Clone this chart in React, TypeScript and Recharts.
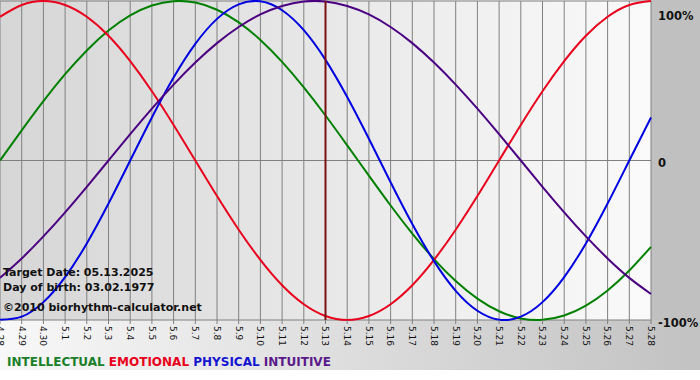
import React from 'react';
import { LineChart, Line, XAxis, YAxis, CartesianGrid, ReferenceLine } from 'recharts';

const days = [
  '4.28', '4.29', '4.30', '5.1', '5.2', '5.3', '5.4', '5.5', '5.6', '5.7', '5.8',
  '5.9', '5.10', '5.11', '5.12', '5.13', '5.14', '5.15', '5.16', '5.17', '5.18',
  '5.19', '5.20', '5.21', '5.22', '5.23', '5.24', '5.25', '5.26', '5.27', '5.28',
];

// percent values, one per day
const intellectual = [0, 18.9, 37.2, 54.1, 69.0, 81.5, 91.0, 97.2, 99.9, 99.0, 94.5, 86.6, 75.6, 61.8, 45.8, 28.2, 9.5, -9.5, -28.2, -45.8, -61.8, -75.6, -86.6, -94.5, -99.0, -99.9, -97.2, -91.0, -81.5, -69.0, -54.1];
const emotional = [90.1, 97.5, 100, 97.5, 90.1, 78.2, 62.3, 43.4, 22.3, 0, -22.3, -43.4, -62.3, -78.2, -90.1, -97.5, -100, -97.5, -90.1, -78.2, -62.3, -43.4, -22.3, 0, 22.3, 43.4, 62.3, 78.2, 90.1, 97.5, 100];
const physical = [-99.8, -97.9, -88.8, -73.1, -52.0, -27.0, 0, 27.0, 52.0, 73.1, 88.8, 97.9, 99.8, 94.2, 81.7, 63.1, 39.8, 13.6, -13.6, -39.8, -63.1, -81.7, -94.2, -99.8, -97.9, -88.8, -73.1, -52.0, -27.0, 0, 27.0];
const intuitive = [-73.6, -61.4, -47.6, -32.5, -16.5, 0, 16.5, 32.5, 47.6, 61.4, 73.6, 83.7, 91.6, 96.9, 99.7, 99.7, 96.9, 91.6, 83.7, 73.6, 61.4, 47.6, 32.5, 16.5, 0, -16.5, -32.5, -47.6, -61.4, -73.6, -83.7];

const targetDay = '5.13';
const infoLines = ['Target Date: 05.13.2025', 'Day of birth: 03.02.1977', '©2010 biorhythm-calculator.net'];

const series = [
  { key: 'intellectual', label: 'INTELLECTUAL', color: '#008000', text: '#1b7f2a' },
  { key: 'emotional', label: 'EMOTIONAL', color: '#e8001c', text: '#e8001c' },
  { key: 'physical', label: 'PHYSICAL', color: '#0000e0', text: '#1515d0' },
  { key: 'intuitive', label: 'INTUITIVE', color: '#4b0082', text: '#5a1a8a' },
];

const data = days.map((day, i) => ({
  day,
  intellectual: intellectual[i],
  emotional: emotional[i],
  physical: physical[i],
  intuitive: intuitive[i],
}));

const font = '"DejaVu Sans", Verdana, sans-serif';

const DayTick = (props: any) => {
  const { x, y, payload } = props;
  return (
    <text
      x={x}
      y={y}
      dy="0.35em"
      transform={`rotate(90, ${x}, ${y})`}
      textAnchor="start"
      fontSize={9}
      fontFamily={font}
      fill="#111"
    >
      {payload.value}
    </text>
  );
};

const PctTick = (props: any) => {
  const { x, y, payload } = props;
  const v = payload.value;
  const dy = v === 100 ? 11 : v === 0 ? 6 : 7;
  return (
    <text x={x - 1} y={y + dy} textAnchor="start" fontSize={11.5} fontWeight="bold" fontFamily={font} fill="#111">
      {v === 0 ? '0' : `${v}%`}
    </text>
  );
};

const App = () => {
  return (
    <div style={{ position: 'absolute', left: 0, top: 0, width: 700, height: 380, background: '#fff' }}>
      <div style={{ position: 'absolute', left: 0, top: 0, width: 651, height: 320, background: 'linear-gradient(to right, #d6d6d6, #fafafa)' }} />
      <div style={{ position: 'absolute', left: 651, top: 0, width: 49, height: 320, background: '#c0c0c0' }} />
      <div style={{ position: 'absolute', left: 0, top: 320, width: 700, height: 50, background: 'linear-gradient(to right, #f8f8f8, #c2c2c2)' }} />
      <div style={{ position: 'absolute', left: 0, top: 0 }}>
        <LineChart width={700} height={380} data={data} margin={{ top: 1, right: 0, left: 0, bottom: 0 }}>
          <CartesianGrid stroke="#808080" strokeWidth={1} />
          <XAxis
            dataKey="day"
            interval={0}
            height={60}
            tick={<DayTick />}
            tickLine={{ stroke: '#808080' }}
            tickSize={4}
            tickMargin={2}
            axisLine={false}
          />
          <YAxis
            orientation="right"
            domain={[-100, 100]}
            ticks={[-100, 0, 100]}
            width={49}
            tick={<PctTick />}
            axisLine={false}
            tickLine={false}
          />
          {series.map((s) => (
            <Line
              key={s.key}
              type="natural"
              dataKey={s.key}
              stroke={s.color}
              strokeWidth={2}
              dot={false}
              isAnimationActive={false}
            />
          ))}
          <ReferenceLine x={targetDay} stroke="#7a1010" strokeWidth={2} />
        </LineChart>
      </div>
      <svg width={700} height={380} style={{ position: 'absolute', left: 0, top: 0, pointerEvents: 'none' }}>
        {infoLines.map((t, i) => (
          <text key={t} x={3} y={[276, 291, 311][i]} fontSize={11} fontWeight="bold" fontFamily={font} fill="#111">
            {t}
          </text>
        ))}
        <text x={7} y={366} fontSize={12} fontWeight="bold" fontFamily={font}>
          {series.map((s, i) => (
            <tspan key={s.key} fill={s.text}>
              {(i > 0 ? ' ' : '') + s.label}
            </tspan>
          ))}
        </text>
      </svg>
    </div>
  );
};

export default App;
